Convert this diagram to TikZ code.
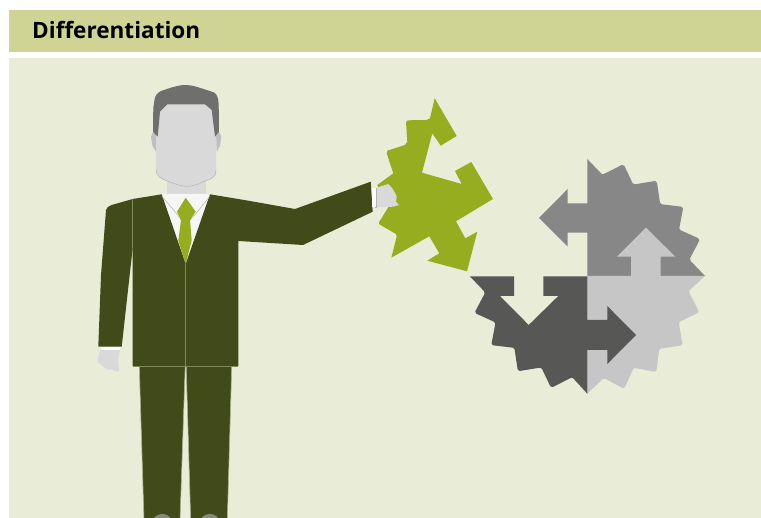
\documentclass[tikz,border=0pt]{standalone}
\usepackage{fontspec}
\setmainfont{Open Sans}
\definecolor{headbar}{HTML}{CFD494}
\definecolor{panel}{HTML}{E9ECD7}
\definecolor{suit}{HTML}{414B19}
\definecolor{suitline}{HTML}{7F8A5C}
\definecolor{suitedge}{HTML}{A9B18F}
\definecolor{leaf}{HTML}{95AD1E}
\definecolor{skin}{HTML}{D9D9D9}
\definecolor{skinline}{HTML}{B4B4B4}
\definecolor{hair}{HTML}{6F6F6E}
\definecolor{shirt}{HTML}{F6F6F6}
\definecolor{gdark}{HTML}{575756}
\definecolor{gmid}{HTML}{878787}
\definecolor{glight}{HTML}{C6C6C6}
\tikzset{
  band/.style={fill=#1,draw=none},
  flat/.style={fill=#1,draw=none},
  jacket/.style={fill=suit,draw=none},
  seam/.style={draw=suitline,line width=0.6pt},
  trouser/.style={fill=suit,draw=suitedge,line width=0.6pt},
  title/.style={font=\bfseries\fontsize{22.55pt}{26pt}\selectfont,text=black,anchor=base west,inner sep=0pt}
}
\begin{document}
\begin{tikzpicture}[x=1pt,y=-1pt]
\useasboundingbox (0,0) rectangle (761,518);
\fill[white] (0,0) rectangle (761,518);
\path[band=headbar] (9,10) rectangle (761,52);
\path[band=panel] (9,58) rectangle (761,518);
\node[title] (heading) at (32,38.2) {Differentiation};

% gear: dark-mid quadrant
\path[flat=gmid] (587.3,159) -- (601.7,174) -- (604,174) -- (621.7,165) -- (624.3,165.7) -- (632.7,183.3) -- (635,184.3) -- (655,181) -- (657,182.7) -- (660,202.7) -- (661.7,204.3) -- (681.7,206.7) -- (683,208.7) -- (679.3,228.3) -- (680.7,230.3) -- (698.3,238.3) -- (699.3,240.7) -- (690,258.3) -- (690.7,261) -- (705,276) -- (587.3,276) -- (587.3,232.7) -- (567.7,232.7) -- (567.7,246.7) -- (539,218) -- (567.7,189) -- (567.7,203.3) -- (587.3,203.3) -- cycle;
% gear: light quadrant
\path[flat=glight] (705,276) -- (689.3,290.4) -- (689.3,292.7) -- (698.3,310.4) -- (697.6,313) -- (680,321.4) -- (679,323.7) -- (682.3,343.7) -- (680.6,345.7) -- (660.6,348.7) -- (659,350.4) -- (656.6,370.4) -- (654.6,371.7) -- (635,368) -- (633,369.4) -- (625,387) -- (622.6,388) -- (605,378.7) -- (602.3,379.4) -- (587.3,393.7) -- (587.3,276) -- (631,276) -- (631,256.7) -- (617,256.7) -- (646,227.7) -- (675.3,256.7) -- (660.7,256.7) -- (660.7,276) -- cycle;
% gear: dark quadrant
\path[flat=gdark] (470,276.5) -- (514,276.5) -- (514,296) -- (500,296) -- (528.7,325) -- (558.3,296) -- (543.3,296) -- (543.3,276.5) -- (587.3,276.5) -- (587.3,320) -- (607.3,320) -- (607.3,306) -- (636,335) -- (607.3,364) -- (607.3,350) -- (587.3,350) -- (587.3,393.7) -- (572.9,378) -- (570.6,378) -- (552.9,387) -- (550.3,386.3) -- (541.9,368.7) -- (539.6,367.7) -- (519.6,371) -- (517.6,369.3) -- (514.6,349.3) -- (512.9,347.7) -- (492.9,345.3) -- (491.6,343.3) -- (495.3,323.7) -- (493.9,321.7) -- (476.3,313.7) -- (475.3,311.3) -- (484.6,293.7) -- (483.9,291) -- cycle;

% green arrows piece
\path[flat=leaf] (434.7,98.3) -- (456.7,136) -- (440.7,145.7) -- (432.3,133.3) -- (422,172.7) -- (461.7,184) -- (455,171) -- (471.3,162) -- (493,199) -- (456,221.3) -- (465.3,238.3) -- (477.3,231.7) -- (467,271.3) -- (427.3,260.7) -- (439.3,253.3) -- (429.3,236.3) -- (391.3,257.7) -- (396.7,236.7) -- (396,234) -- (379.3,224.3) -- (379,222.3) -- (388.3,207.3) -- (377.3,185) -- (393.3,173.3) -- (386.7,153.3) -- (387.3,150.7) -- (405,145) -- (407.3,141.7) -- (406,122.3) -- (407.7,120.3) -- (426.7,120) -- (430,118.3) -- cycle;

% trousers and shoes
\begin{scope}
\clip (0,0) rectangle (761,518);
\path[trouser] (139.3,366) -- (144,520) -- (180,520) -- (185.2,366) -- cycle;
\path[trouser] (186.2,366) -- (190.7,520) -- (227.3,520) -- (231.7,366) -- cycle;
\path[flat=gmid] (162.3,522) ellipse [x radius=9.5,y radius=8];
\path[flat=gmid] (209.8,522) ellipse [x radius=9.5,y radius=8];
\end{scope}

% left arm of the picture: sleeve, cuff, hand
\path[flat=skin] (100,350) -- (97.3,361.7) -- (106.7,369.3) -- (112,369.5) -- (115,371) -- (119.3,371.7) -- (118,360) -- (120,350) -- cycle;
\path[flat=white] (100.7,346.7) rectangle (120,350.3);
\path[jacket] (132.7,199) -- (111.7,205) .. controls (108,206.5) and (106.5,208) .. (106,210) -- (101,275) -- (98.3,346.7) -- (121.7,346.7) -- (132.7,248) -- cycle;

% neck, ears, shirt
\path[flat=skin] (166.7,178) rectangle (205.7,197);
\path[flat=skinline!70!skin] (151,136.7) -- (153.3,131.7) -- (156,133) -- (156,151.7) -- (152.5,146) -- cycle;
\path[flat=skinline!70!skin] (221.3,136.7) -- (219,131.7) -- (216,133) -- (216.7,151.7) -- (220,146) -- cycle;
\path[flat=shirt] (161.7,194) -- (210,194) -- (185.7,264) -- cycle;

% jacket body with the extended arm
\path[jacket] (132.7,199) -- (161.7,194.3) -- (185.7,264) -- (210,194.3) -- (250,201) -- (295,209) -- (370.7,181.7) -- (372.7,211.7) -- (303,245) -- (238.3,241) -- (238.3,366) -- (132.7,366) -- cycle;
\draw[seam] (132.7,199) -- (132.7,248);
\draw[seam] (185.7,264) -- (185.7,366);
\draw[seam] (132.7,366) -- (238.3,366);

% collar lines and tie
\draw[skinline,line width=0.5pt] (161.7,196) -- (177,214) -- (181,220) -- (190,220) -- (195.7,214) -- (210,196);
\path[flat=leaf] (185.7,197.7) -- (195.7,211.7) -- (190,220) -- (191.7,240.7) -- (185.7,264) -- (178.3,240.7) -- (181,220) -- (177,211.7) -- cycle;

% head
\path[flat=skin] (156,138) -- (160,111.7) -- (167.3,104.3) -- (205,104.3) -- (211.7,110) -- (216,137) -- (216,170) .. controls (216,175) and (214,177) .. (211.7,178.3) .. controls (208,180.5) and (206,180.5) .. (205,181) .. controls (198,184) and (194,186.3) .. (186.7,186.3) .. controls (180,186.3) and (174,183.5) .. (167.3,181) .. controls (162,179.5) and (156,176) .. (156,170) -- cycle;
\draw[skinline,line width=0.5pt] (216,170) .. controls (216,175) and (214,177) .. (211.7,178.3) .. controls (208,180.5) and (206,180.5) .. (205,181) .. controls (198,184) and (194,186.3) .. (186.7,186.3) .. controls (180,186.3) and (174,183.5) .. (167.3,181) .. controls (162,179.5) and (156,176) .. (156,170);
\path[flat=hair] (185.7,85) .. controls (178,85) and (170,88) .. (161.7,90.7) .. controls (157,92.5) and (155,96) .. (154.5,100) -- (153.3,108) -- (153,131.7) -- (157.7,136.7) -- (160,111.7) -- (167.3,104.3) -- (205,104.3) -- (211.7,110) -- (215,136.7) -- (219,131.7) -- (218.7,105) .. controls (218.5,98) and (217,94) .. (214,92.5) -- (206.7,90) .. controls (200,88) and (193,85) .. (185.7,85) -- cycle;

% right hand and cuff
\path[flat=skin] (376.7,187.7) -- (388.3,184) -- (392.3,188.3) -- (396.7,196) -- (396,201.7) -- (399,205) -- (393.3,206.7) -- (376.7,207.3) -- cycle;
\path[flat=skinline] (375,187.7) rectangle (377.3,208);
\path[flat=white] (372,188.3) rectangle (375.5,207.5);
\end{tikzpicture}
\end{document}
